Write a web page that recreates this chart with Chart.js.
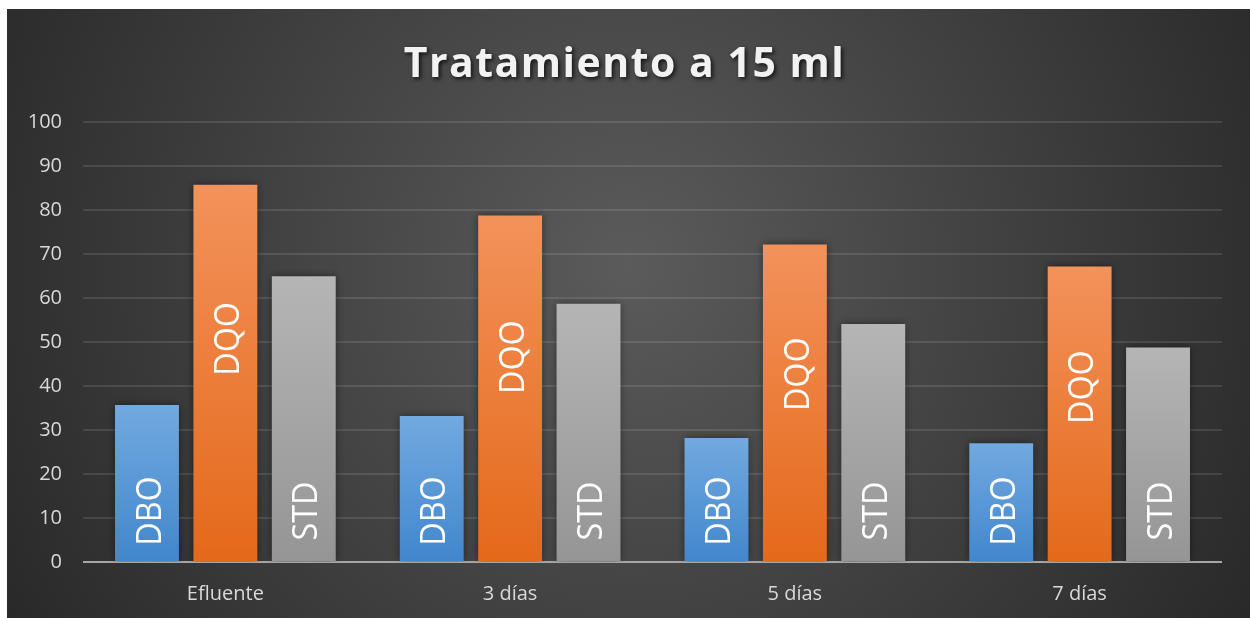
<!DOCTYPE html>
<html>
<head>
<meta charset="utf-8">
<script src="https://cdn.jsdelivr.net/npm/chart.js@4.4.1/dist/chart.umd.min.js"></script>
<style>
  html, body { margin: 0; padding: 0; background: #ffffff; }
  #wrap { position: absolute; left: 7px; top: 9px; width: 1243px; height: 609px; }
</style>
</head>
<body>
<div id="wrap"><canvas id="chart"></canvas></div>
<script>
// values
const categories = ["Efluente", "3 días", "5 días", "7 días"];
const seriesNames = ["DBO", "DQO", "STD"];
const dboValues = [35.7, 33.2, 28.2, 27.0];
const dqoValues = [85.8, 78.8, 72.2, 67.2];
const stdValues = [65.0, 58.7, 54.1, 48.8];
const yTicks = [0, 10, 20, 30, 40, 50, 60, 70, 80, 90, 100];

// top / bottom colour for each series gradient
const gradStops = [
  ["#72a9e0", "#4187cc"],
  ["#f3925b", "#e4691a"],
  ["#b5b5b5", "#959595"]
];

function barGradient(i) {
  return (c) => {
    const chart = c.chart;
    if (!chart.chartArea || c.raw === undefined) return gradStops[i][1];
    const y = chart.scales.y;
    const top = y.getPixelForValue(c.raw);
    const bot = y.getPixelForValue(0);
    const g = chart.ctx.createLinearGradient(0, top, 0, bot);
    g.addColorStop(0, gradStops[i][0]);
    g.addColorStop(1, gradStops[i][1]);
    return g;
  };
}

// dark radial backdrop
const backdrop = {
  id: "backdrop",
  beforeDraw(chart) {
    const { ctx, width, height } = chart;
    const g = ctx.createRadialGradient(width / 2, height * 0.42, 0, width / 2, height * 0.42, width * 0.62);
    g.addColorStop(0, "#5b5b5b");
    g.addColorStop(1, "#252525");
    ctx.save();
    ctx.fillStyle = g;
    ctx.fillRect(0, 0, width, height);
    ctx.restore();
  }
};

// soft shadow for the title and bars, plus labels inside the bars
const extras = {
  id: "extras",
  afterInit(chart) {
    const t = chart.titleBlock;
    if (t && !t._patched) {
      const orig = t.draw;
      t.draw = function (area) {
        const ctx = chart.ctx;
        ctx.save();
        ctx.translate(10, 0);
        ctx.letterSpacing = "1.5px";
        ctx.shadowColor = "rgba(0,0,0,0.75)";
        ctx.shadowBlur = 4;
        ctx.shadowOffsetX = 2;
        ctx.shadowOffsetY = 2;
        orig.call(this, area);
        ctx.restore();
      };
      t._patched = true;
    }
  },
  beforeDatasetsDraw(chart) {
    const ctx = chart.ctx;
    ctx.save();
    ctx.shadowColor = "rgba(0,0,0,0.45)";
    ctx.shadowBlur = 8;
  },
  afterDatasetsDraw(chart) {
    const ctx = chart.ctx;
    ctx.restore();
    ctx.save();
    ctx.fillStyle = "#ffffff";
    ctx.font = "34px 'Open Sans'";
    ctx.textAlign = "center";
    ctx.textBaseline = "middle";
    chart.data.datasets.forEach((ds, di) => {
      const meta = chart.getDatasetMeta(di);
      meta.data.forEach((bar) => {
        const h = bar.base - bar.y;
        let cy;
        if (di === 1) cy = bar.base - h * 0.59;
        else cy = bar.base - 50;
        ctx.save();
        ctx.translate(bar.x + 4, cy);
        ctx.rotate(-Math.PI / 2);
        ctx.scale(0.95, 1);
        ctx.fillText(ds.label, 0, 0);
        ctx.restore();
      });
    });
    ctx.restore();
  }
};

const valueSets = [dboValues, dqoValues, stdValues];

new Chart(document.getElementById("chart"), {
  type: "bar",
  data: {
    labels: categories,
    datasets: seriesNames.map((name, i) => ({
      label: name,
      data: valueSets[i],
      backgroundColor: barGradient(i),
      borderWidth: 0,
      categoryPercentage: 0.826,
      barPercentage: 0.815
    }))
  },
  options: {
    responsive: true,
    maintainAspectRatio: false,
    animation: false,
    layout: { padding: { top: 0, right: 28, bottom: 12, left: 0 } },
    plugins: {
      legend: { display: false },
      tooltip: { enabled: false },
      title: {
        display: true,
        text: "Tratamiento a 15 ml",
        color: "#f2f2f2",
        font: { family: "'Open Sans'", size: 41, weight: "bold" },
        padding: { top: 32, bottom: 32 }
      }
    },
    scales: {
      x: {
        grid: { display: false },
        border: { display: false },
        afterFit(scale) {
          scale.height = 44;
        },
        ticks: {
          color: "#d9d9d9",
          font: { family: "'Open Sans'", size: 20 },
          padding: 12
        }
      },
      y: {
        min: 0,
        max: 100,
        afterBuildTicks(scale) {
          scale.ticks = yTicks.map((v) => ({ value: v }));
        },
        afterFit(scale) {
          scale.width = 76;
        },
        border: { display: false },
        grid: {
          drawTicks: false,
          color: (c) => (c.index === 0 ? "#a6a6a6" : "rgba(255,255,255,0.11)"),
          lineWidth: 2
        },
        ticks: {
          color: "#d9d9d9",
          font: { family: "'Open Sans'", size: 20 },
          padding: 21
        }
      }
    }
  },
  plugins: [backdrop, extras]
});
</script>
</body>
</html>
